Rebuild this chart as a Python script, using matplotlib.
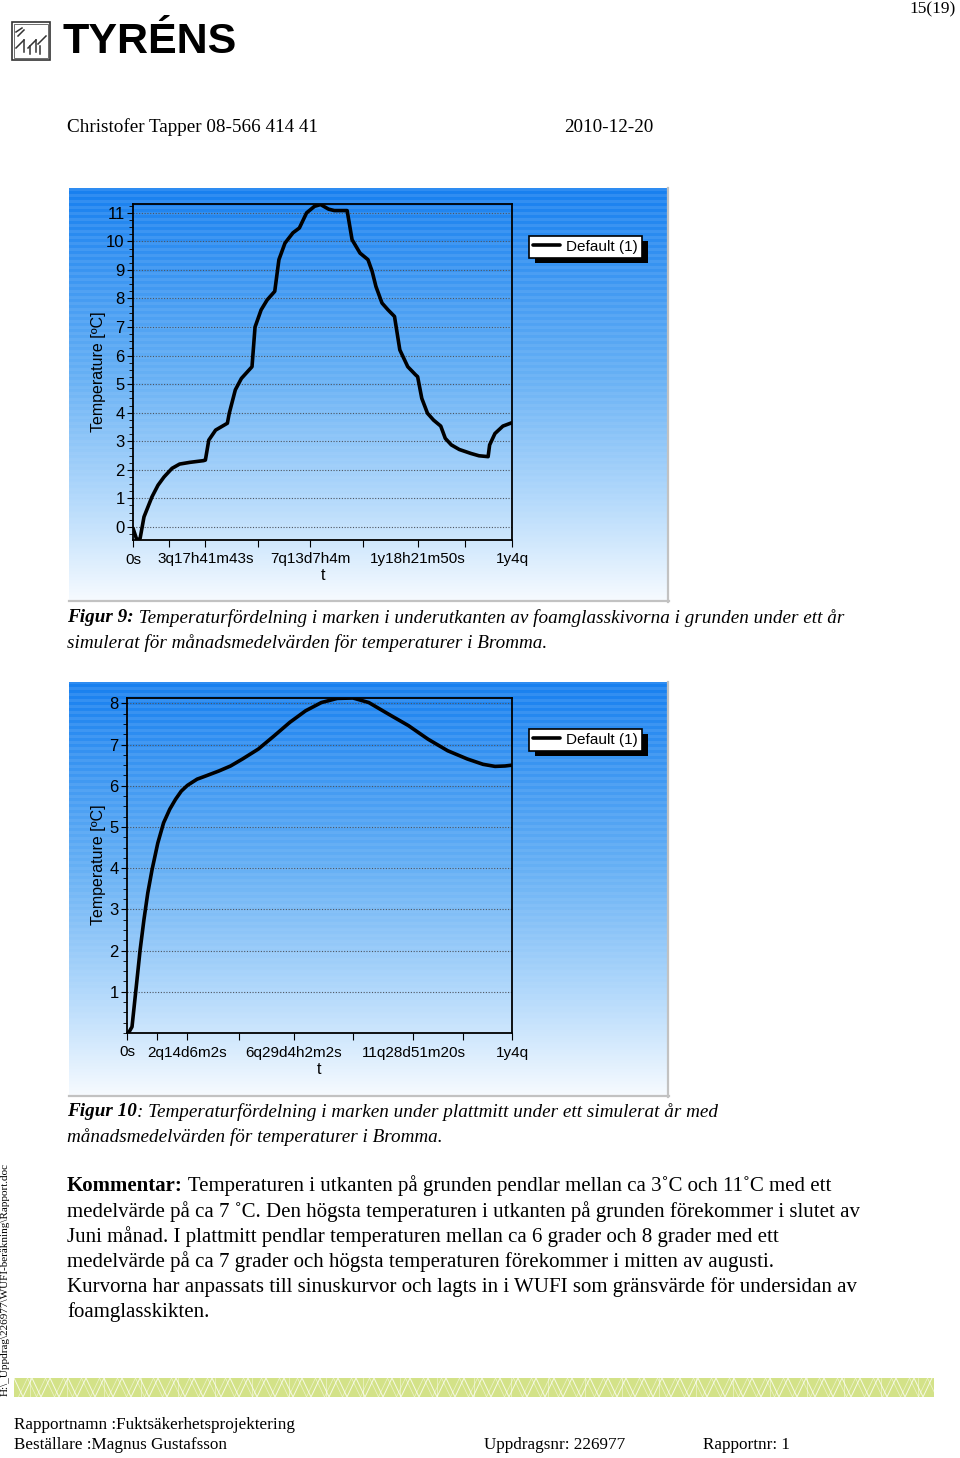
import numpy as np
import matplotlib
matplotlib.use('Agg')
import matplotlib.pyplot as plt
from matplotlib.patches import Rectangle
from matplotlib.ticker import FixedLocator, MultipleLocator

# ---------------- data ----------------
# Figure 9: time as fraction of the simulated year, temperature in degC
t_edge = [0.0, 0.0105, 0.0188, 0.029, 0.050, 0.066, 0.082, 0.103, 0.123, 0.150,
          0.186, 0.191, 0.200, 0.218, 0.249, 0.254, 0.270, 0.286, 0.314, 0.322,
          0.338, 0.354, 0.374, 0.385, 0.401, 0.422, 0.439, 0.458, 0.479, 0.495,
          0.516, 0.531, 0.565, 0.578, 0.599, 0.620, 0.631, 0.641, 0.657, 0.673,
          0.690, 0.704, 0.725, 0.746, 0.751, 0.762, 0.777, 0.793, 0.812, 0.824,
          0.840, 0.861, 0.892, 0.913, 0.937, 0.941, 0.955, 0.976, 1.0]
temp_edge = [-0.05, -0.47, -0.40, 0.35, 1.05, 1.46, 1.75, 2.05, 2.20, 2.26,
             2.32, 2.34, 3.04, 3.39, 3.63, 3.98, 4.80, 5.20, 5.61, 7.00,
             7.60, 7.95, 8.25, 9.36, 9.94, 10.30, 10.47, 11.00, 11.23, 11.29,
             11.13, 11.08, 11.08, 10.06, 9.59, 9.36, 8.95, 8.42, 7.84, 7.60,
             7.37, 6.20, 5.61, 5.32, 5.26, 4.50, 3.98, 3.74, 3.53, 3.10,
             2.87, 2.71, 2.57, 2.49, 2.46, 2.87, 3.27, 3.53, 3.65]
x1_major = [0.0, 0.191, 0.467, 0.751, 1.0]
x1_minor = [0.095, 0.330, 0.606, 0.876]
x1_labels = ['0s', '3q17h41m43s', '7q13d7h4m', '1y18h21m50s', '1y4q']
y1_ticks = list(range(0, 12))

# Figure 10
t_mid = [0.0, 0.005, 0.013, 0.024, 0.034, 0.044, 0.054, 0.065, 0.080, 0.095,
         0.111, 0.126, 0.141, 0.157, 0.182, 0.208, 0.239, 0.269, 0.300, 0.341,
         0.382, 0.423, 0.464, 0.505, 0.546, 0.587, 0.628, 0.679, 0.731, 0.782,
         0.833, 0.884, 0.925, 0.956, 0.982, 1.0]
temp_mid = [0.00, 0.02, 0.15, 1.12, 2.01, 2.75, 3.40, 3.96, 4.61, 5.10,
            5.43, 5.67, 5.87, 6.01, 6.16, 6.25, 6.36, 6.48, 6.65, 6.89,
            7.21, 7.54, 7.82, 8.02, 8.12, 8.13, 8.02, 7.74, 7.46, 7.13,
            6.85, 6.65, 6.52, 6.47, 6.48, 6.50]
x2_major = [0.0, 0.155, 0.433, 0.744, 1.0]
x2_minor = [0.078, 0.292, 0.587, 0.874]
x2_labels = ['0s', '2q14d6m2s', '6q29d4h2m2s', '11q28d51m20s', '1y4q']
y2_ticks = list(range(1, 9))

series_label = 'Default (1)'
y_label = 'Temperature [ºC]'
x_label = 't'

# ---------------- figure ----------------
W, H = 960, 1458
fig = plt.figure(figsize=(9.6, 14.58), dpi=100)
fig.patch.set_facecolor('white')
SERIF = ['Liberation Serif', 'DejaVu Serif']
SANS = ['Liberation Sans', 'DejaVu Sans']
plt.rcParams['font.family'] = SANS


def fx(x):
    return x / W


def fy(y):
    return 1 - y / H


def rect_ax(x0, y0, x1, y1, **kw):
    return fig.add_axes([fx(x0), fy(y1), (x1 - x0) / W, (y1 - y0) / H], **kw)


def panel_bg(x0, y0, x1, y1):
    ax = rect_ax(x0, y0, x1, y1, zorder=-2)
    n = int(y1 - y0)
    t = np.linspace(0, 1, n)
    st = [0.0, 0.45, 0.75, 1.0]
    sc = np.array([[0.09, 0.50, 0.94], [0.40, 0.69, 0.96],
                   [0.70, 0.85, 0.985], [0.97, 0.985, 1.0]])
    col = np.stack([np.interp(t, st, sc[:, k]) for k in range(3)], axis=1)
    rows = np.arange(n)
    stripe = ((rows // 3) % 2 == 0).astype(float)
    amp = 0.10 * (1 - t)
    col = col + (stripe * amp)[:, None] * (1 - col)
    ax.imshow(col[:, None, :], aspect='auto', extent=[0, 1, 0, 1],
              interpolation='nearest')
    ax.set_xlim(0, 1)
    ax.set_ylim(0, 1)
    ax.set_axis_off()
    ax.plot([0.999, 0.999], [0, 1], color='#c2c2c2', lw=1.6, clip_on=False)
    ax.plot([0, 1], [0.002, 0.002], color='#c2c2c2', lw=1.6, clip_on=False)


def chart(box, t, temp, ylim, yticks, xmaj, xmin, xlabels, leg_xy,
          ylab_xy, xlab_xy):
    ax = rect_ax(*box, zorder=0)
    ax.patch.set_visible(False)
    ax.plot(t, temp, color='black', lw=2.6, label=series_label,
            solid_joinstyle='round', solid_capstyle='round', zorder=3)
    ax.set_xlim(0, 1)
    ax.set_ylim(*ylim)
    ax.set_xticks(xmaj)
    ax.set_xticklabels(xlabels)
    ax.xaxis.set_minor_locator(FixedLocator(xmin))
    ax.set_yticks(yticks)
    ax.yaxis.set_minor_locator(MultipleLocator(0.25))
    ax.grid(axis='y', which='major', ls=(0, (1, 1.5)), color='#4d5560',
            lw=0.8)
    ax.tick_params(axis='both', which='both', direction='out', colors='black')
    ax.tick_params(axis='x', which='both', length=5, width=0.8, pad=4,
                   labelsize=11)
    ax.tick_params(axis='y', which='major', length=4, width=0.8, pad=2,
                   labelsize=12)
    ax.tick_params(axis='y', which='minor', length=3, width=0.6)
    for s in ax.spines.values():
        s.set_linewidth(1.3)
        s.set_color('black')
    leg = ax.legend(loc='upper left', bbox_to_anchor=(fx(leg_xy[0]), fy(leg_xy[1])),
                    bbox_transform=fig.transFigure, frameon=True, fancybox=False,
                    edgecolor='black', framealpha=1, borderpad=0.25,
                    handlelength=1.8, handletextpad=0.4, fontsize=11,
                    borderaxespad=0)
    leg.get_frame().set_linewidth(1.2)
    fig.canvas.draw()
    bb = leg.get_window_extent()
    ax.add_patch(Rectangle((bb.x0 + 6, bb.y0 - 5), bb.width, bb.height,
                           transform=None, facecolor='black', edgecolor='none',
                           zorder=4, clip_on=False))
    fig.text(fx(ylab_xy[0]), fy(ylab_xy[1]), y_label, rotation=90,
             ha='center', va='center', fontsize=11.5)
    fig.text(fx(xlab_xy[0]), fy(xlab_xy[1]), x_label, ha='center',
             va='center', fontsize=11.5)
    return ax


# chart 1
panel_bg(69, 188, 669, 602)
chart((133, 204, 512, 540), t_edge, temp_edge, (-0.46, 11.31), y1_ticks,
      x1_major, x1_minor, x1_labels, (529, 236), (98, 372), (323, 576))
# chart 2
panel_bg(69, 682, 669, 1097)
chart((127, 698, 512, 1033), t_mid, temp_mid, (0.0, 8.13), y2_ticks,
      x2_major, x2_minor, x2_labels, (529, 729), (98, 865), (319, 1069))

renderer = fig.canvas.get_renderer()


def runs(x, y, parts, size, family=SERIF):
    cur = x
    for txt, kw in parts:
        tt = fig.text(fx(cur), fy(y), txt, fontsize=size, family=family,
                      va='center', ha='left', color='black', **kw)
        cur += tt.get_window_extent(renderer).width


# header
fig.text(fx(933), fy(9), '15(19)', fontsize=12.5, family=SERIF, ha='center', va='center')
fig.text(fx(67), fy(127), 'Christofer Tapper 08-566 414 41', fontsize=13.8,
         family=SERIF, ha='left', va='center')
fig.text(fx(564), fy(127), '2010-12-20', fontsize=13.8, family=SERIF,
         ha='left', va='center')

# logo
lx = rect_ax(10, 18, 60, 64)
lx.set_xlim(0, 50)
lx.set_ylim(46, 0)
lx.set_axis_off()
lx.add_patch(Rectangle((2, 4), 38, 38, fill=False, ec='#333', lw=1.2))
lx.add_patch(Rectangle((4, 6), 34, 34, fill=False, ec='#555', lw=0.6))
for seg in [((6, 30), (14, 22)), ((14, 22), (14, 34)), ((18, 30), (26, 22)),
            ((26, 22), (26, 34)), ((28, 26), (36, 18)), ((6, 14), (12, 10)),
            ((20, 36), (20, 28)), ((30, 36), (30, 28)), ((8, 18), (14, 12))]:
    lx.plot([seg[0][0], seg[1][0]], [seg[0][1], seg[1][1]], color='#333', lw=1.1)
fig.text(fx(62), fy(42), 'TYRÉNS', fontsize=31, fontweight='heavy',
         family=SANS, ha='left', va='center', color='black')

# captions
it = dict(style='italic')
bi = dict(style='italic', weight='bold')
runs(67, 618, [('Figur 9:', bi), (' Temperaturfördelning i marken i underutkanten av '
               'foamglasskivorna i grunden under ett år', it)], 13.8)
runs(67, 643, [('simulerat för månadsmedelvärden för temperaturer i Bromma.', it)], 13.8)
runs(67, 1112, [('Figur 10', bi), (': Temperaturfördelning i marken under plattmitt '
                'under ett simulerat år med', it)], 13.8)
runs(67, 1137, [('månadsmedelvärden för temperaturer i Bromma.', it)], 13.8)

# body
body = [
    [('Kommentar:', dict(weight='bold')),
     (' Temperaturen i utkanten på grunden pendlar mellan ca 3˚C och 11˚C med ett', {})],
    [('medelvärde på ca 7 ˚C. Den högsta temperaturen i utkanten på grunden förekommer i slutet av', {})],
    [('Juni månad. I plattmitt pendlar temperaturen mellan ca 6 grader och 8 grader med ett', {})],
    [('medelvärde på ca 7 grader och högsta temperaturen förekommer i mitten av augusti.', {})],
    [('Kurvorna har anpassats till sinuskurvor och lagts in i WUFI som gränsvärde för undersidan av', {})],
    [('foamglasskikten.', {})],
]
for i, line in enumerate(body):
    runs(67, 1186 + i * 25.2, line, 15.0)

# side path
fig.text(fx(5), fy(1280), 'H:\\_Uppdrag\\226977\\WUFI-beräkning\\Rapport.doc',
         rotation=90, fontsize=8, family=SERIF, ha='center', va='center')

# footer band
bx = rect_ax(14, 1378, 934, 1397)
bx.set_xlim(14, 934)
bx.set_ylim(1397, 1378)
bx.set_axis_off()
bx.add_patch(Rectangle((14, 1378), 920, 19, facecolor='#d3e288', edgecolor='none'))
xs = np.arange(14, 940, 9)
zig = np.where((np.arange(len(xs)) % 2) == 0, 1378, 1397)
bx.plot(xs, zig, color='white', lw=0.7, alpha=0.8)
bx.plot(xs + 4.5, 2775 - zig, color='white', lw=0.5, alpha=0.6)
for xv in np.arange(30, 934, 37):
    bx.plot([xv, xv], [1378, 1397], color='white', lw=0.5, alpha=0.6)

# footer text
fig.text(fx(14), fy(1425), 'Rapportnamn :Fuktsäkerhetsprojektering', fontsize=12.3,
         family=SERIF, ha='left', va='center')
fig.text(fx(14), fy(1445), 'Beställare :Magnus Gustafsson', fontsize=12.3,
         family=SERIF, ha='left', va='center')
fig.text(fx(484), fy(1445), 'Uppdragsnr: 226977', fontsize=12.3,
         family=SERIF, ha='left', va='center')
fig.text(fx(703), fy(1445), 'Rapportnr: 1', fontsize=12.3,
         family=SERIF, ha='left', va='center')

fig.savefig('out.png', dpi=100)
